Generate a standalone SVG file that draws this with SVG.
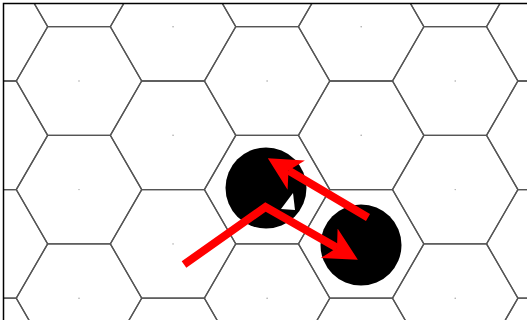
<svg xmlns="http://www.w3.org/2000/svg" width="527" height="320" viewBox="0 0 527 320">
  <style>
    .hex { fill: none; stroke: #555; stroke-width: 1.3; }
    .dot { fill: #999; }
    .arrow { fill: none; stroke: #ff0000; stroke-width: 8; stroke-linejoin: miter; stroke-linecap: butt; }
    .piece { fill: #000; }
  </style>
  <defs>
    <polygon id="hx" class="hex" points="62.7,0 31.35,54.3 -31.35,54.3 -62.7,0 -31.35,-54.3 31.35,-54.3"/>
    <clipPath id="clip"><rect x="4" y="4" width="523" height="316"/></clipPath>
    <marker id="head" markerUnits="userSpaceOnUse" markerWidth="40" markerHeight="40" viewBox="0 -20 40 40" refX="9" refY="0" orient="auto">
      <path d="M33,0 L0,-17 L9,0 L0,17 Z" fill="#ff0000"/>
    </marker>
  </defs>
  <rect width="527" height="320" fill="#fff"/>
  <g id="grid" clip-path="url(#clip)">
    <use href="#hx" x="-15.05" y="-81.9"/><use href="#hx" x="-15.05" y="26.7"/><use href="#hx" x="-15.05" y="135.3"/><use href="#hx" x="-15.05" y="243.9"/><use href="#hx" x="-15.05" y="352.5"/>
    <use href="#hx" x="79" y="-27.6"/><use href="#hx" x="79" y="81"/><use href="#hx" x="79" y="189.6"/><use href="#hx" x="79" y="298.2"/>
    <use href="#hx" x="173.05" y="-81.9"/><use href="#hx" x="173.05" y="26.7"/><use href="#hx" x="173.05" y="135.3"/><use href="#hx" x="173.05" y="243.9"/><use href="#hx" x="173.05" y="352.5"/>
    <use href="#hx" x="267.1" y="-27.6"/><use href="#hx" x="267.1" y="81"/><use href="#hx" x="267.1" y="189.6"/><use href="#hx" x="267.1" y="298.2"/>
    <use href="#hx" x="361.15" y="-81.9"/><use href="#hx" x="361.15" y="26.7"/><use href="#hx" x="361.15" y="135.3"/><use href="#hx" x="361.15" y="243.9"/><use href="#hx" x="361.15" y="352.5"/>
    <use href="#hx" x="455.2" y="-27.6"/><use href="#hx" x="455.2" y="81"/><use href="#hx" x="455.2" y="189.6"/><use href="#hx" x="455.2" y="298.2"/>
    <use href="#hx" x="549.25" y="-81.9"/><use href="#hx" x="549.25" y="26.7"/><use href="#hx" x="549.25" y="135.3"/><use href="#hx" x="549.25" y="243.9"/><use href="#hx" x="549.25" y="352.5"/>
    <g id="centers">
      <circle class="dot" cx="79" cy="81" r="0.7"/><circle class="dot" cx="79" cy="189.6" r="0.7"/><circle class="dot" cx="79" cy="298.2" r="0.7"/>
      <circle class="dot" cx="173.05" cy="26.7" r="0.7"/><circle class="dot" cx="173.05" cy="135.3" r="0.7"/><circle class="dot" cx="173.05" cy="243.9" r="0.7"/>
      <circle class="dot" cx="267.1" cy="81" r="0.7"/><circle class="dot" cx="267.1" cy="298.2" r="0.7"/>
      <circle class="dot" cx="361.15" cy="26.7" r="0.7"/><circle class="dot" cx="361.15" cy="135.3" r="0.7"/>
      <circle class="dot" cx="455.2" cy="81" r="0.7"/><circle class="dot" cx="455.2" cy="189.6" r="0.7"/><circle class="dot" cx="455.2" cy="298.2" r="0.7"/>
    </g>
  </g>
  <path d="M3.5,320 V3.5 H527" fill="none" stroke="#000" stroke-width="1.5"/>
  <g id="piece1">
    <circle class="piece" cx="266" cy="188" r="40.5"/>
    <polygon points="293,193 295,210 281,209" fill="#fff"/>
  </g>
  <g id="piece2">
    <circle class="piece" cx="361" cy="245" r="40.5"/>
  </g>
  <g id="connectors">
    <path class="arrow" d="M184,264.5 L265.5,207 L337,247.8" marker-end="url(#head)"/>
    <path class="arrow" d="M368,217.5 L288.5,170.5" marker-end="url(#head)"/>
  </g>
</svg>
